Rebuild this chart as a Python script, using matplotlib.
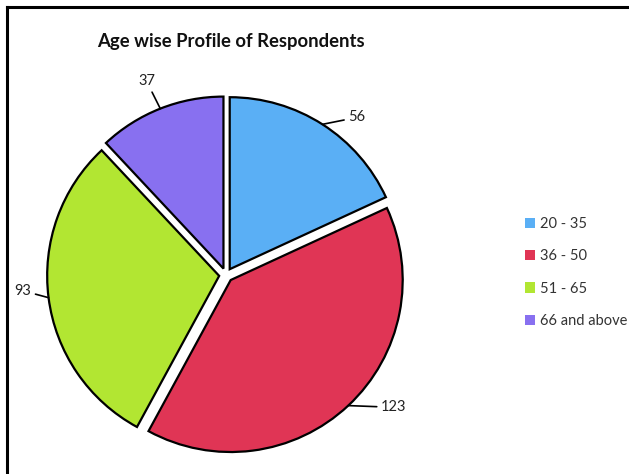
import numpy as np
import matplotlib.pyplot as plt
from matplotlib.lines import Line2D

# data
groups = ['20 - 35', '36 - 50', '51 - 65', '66 and above']
counts = [56, 123, 93, 37]
colors = ['#5aaff5', '#e03555', '#b2e632', '#8870f0']

title = 'Age wise Profile of Respondents'
plt.rcParams['font.family'] = ['Lato', 'DejaVu Sans']

W, H = 629, 474
fig = plt.figure(figsize=(W / 100, H / 100), dpi=100)

# pie centre and radius in pixels
cx, cy, r = 226, 275, 172
half = 200
ax = fig.add_axes([(cx - half) / W, (H - cy - half) / H, 2 * half / W, 2 * half / H])

ex = 0.04
wedges, _ = ax.pie(counts, colors=colors, startangle=90, counterclock=False,
                   explode=[ex] * len(counts), radius=1,
                   wedgeprops=dict(edgecolor='black', linewidth=1.6))
lim = half / r
ax.set_xlim(-lim, lim)
ax.set_ylim(-lim, lim)
ax.axis('off')

# data labels with leader lines (text offsets from the wedge edge), order of counts
offsets = [(0.15, 0.04, 'left'), (0.19, -0.01, 'left'),
           (-0.10, 0.04, 'right'), (-0.08, 0.16, 'center')]
for w, n, (dx, dy, ha) in zip(wedges, counts, offsets):
    mid = np.deg2rad((w.theta1 + w.theta2) / 2)
    ax0 = (1 + ex) * np.cos(mid)
    ay0 = (1 + ex) * np.sin(mid)
    ax.annotate(str(n), xy=(ax0, ay0), xytext=(ax0 + dx, ay0 + dy),
                ha=ha, va='center', fontsize=10.5, color='#222222',
                arrowprops=dict(arrowstyle='-', color='black', lw=1.2,
                                shrinkA=1, shrinkB=0))

fig.text(97 / W, 1 - 42 / H, title, fontsize=13.3, fontweight='bold',
         ha='left', va='center', color='#111111')

handles = [plt.Rectangle((0, 0), 1, 1, facecolor=c, edgecolor='none') for c in colors]
fig.legend(handles, groups, loc='center left', bbox_to_anchor=(512 / W, 1 - 272.5 / H),
           frameon=False, fontsize=10.5, labelcolor='#333333', handlelength=0.7,
           handleheight=0.7, handletextpad=0.3, labelspacing=1.25)

# outer frame lines (left and top)
fig.add_artist(Line2D([7 / W, 7 / W], [0, 1 - 7 / H], color='black', lw=2.2))
fig.add_artist(Line2D([7 / W, 1], [1 - 7 / H, 1 - 7 / H], color='black', lw=2.2))

fig.savefig('out.png', dpi=100)
